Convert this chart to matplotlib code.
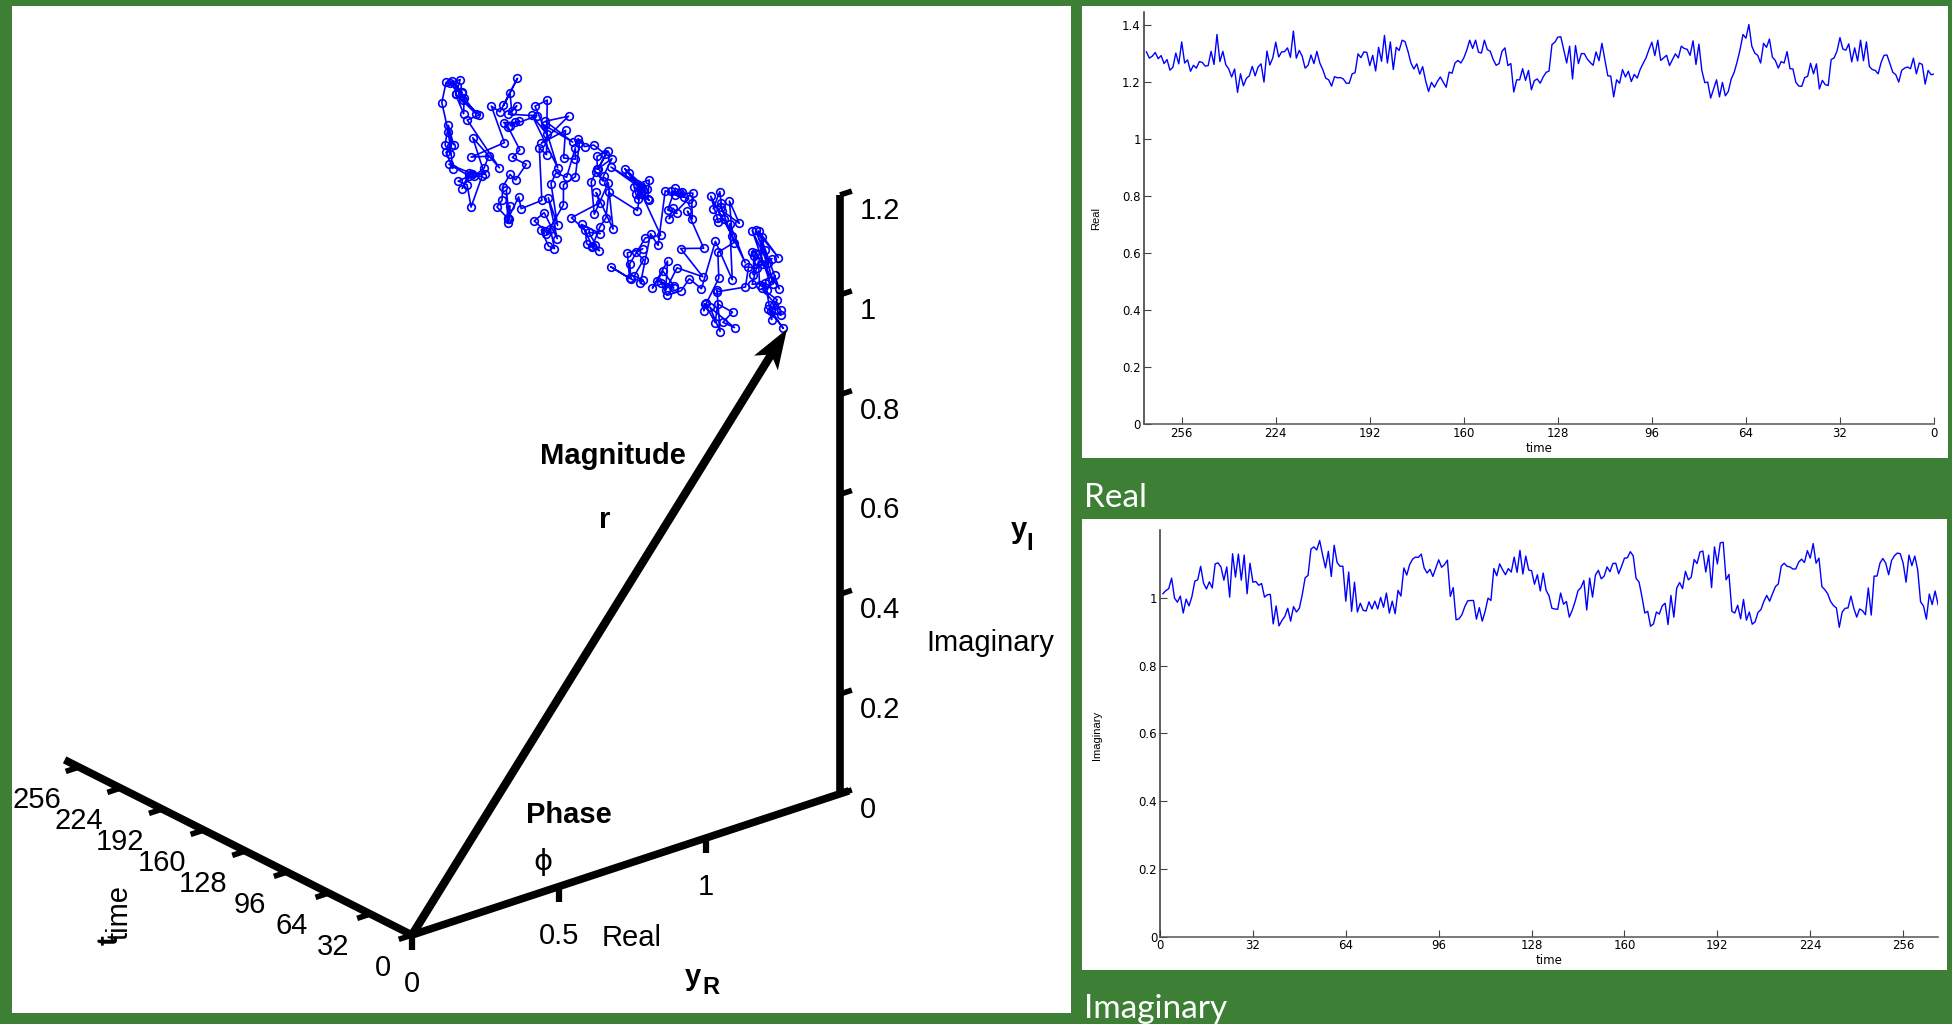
import numpy as np
import matplotlib
matplotlib.use("Agg")
import matplotlib.pyplot as plt

plt.rcParams["font.family"] = ["Liberation Sans", "DejaVu Sans"]

# values, left to right
real_vals = [
    1.306, 1.284, 1.291, 1.304, 1.282, 1.293, 1.265, 1.279, 1.242, 1.252, 1.302, 1.264, 1.341, 1.267, 1.278, 1.238,
    1.259, 1.249, 1.272, 1.269, 1.256, 1.258, 1.308, 1.262, 1.367, 1.272, 1.308, 1.261, 1.246, 1.218, 1.246, 1.164,
    1.229, 1.187, 1.213, 1.222, 1.255, 1.222, 1.253, 1.264, 1.2, 1.309, 1.26, 1.285, 1.34, 1.288, 1.306, 1.307,
    1.32, 1.287, 1.379, 1.284, 1.311, 1.291, 1.249, 1.259, 1.295, 1.265, 1.308, 1.267, 1.244, 1.214, 1.208, 1.186,
    1.219, 1.215, 1.216, 1.211, 1.196, 1.196, 1.229, 1.233, 1.299, 1.286, 1.306, 1.304, 1.258, 1.294, 1.239, 1.322,
    1.273, 1.364, 1.267, 1.341, 1.244, 1.322, 1.311, 1.347, 1.342, 1.308, 1.267, 1.246, 1.264, 1.228, 1.254, 1.205,
    1.167, 1.199, 1.182, 1.202, 1.218, 1.2, 1.182, 1.235, 1.231, 1.267, 1.276, 1.267, 1.285, 1.312, 1.347, 1.318,
    1.347, 1.305, 1.302, 1.347, 1.314, 1.308, 1.279, 1.259, 1.265, 1.308, 1.32, 1.258, 1.265, 1.165, 1.208, 1.208,
    1.247, 1.206, 1.241, 1.173, 1.205, 1.211, 1.196, 1.218, 1.234, 1.239, 1.332, 1.34, 1.358, 1.359, 1.314, 1.267,
    1.326, 1.211, 1.328, 1.265, 1.3, 1.3, 1.281, 1.269, 1.259, 1.306, 1.275, 1.336, 1.279, 1.222, 1.221, 1.148,
    1.208, 1.196, 1.244, 1.218, 1.238, 1.202, 1.227, 1.214, 1.244, 1.265, 1.285, 1.314, 1.34, 1.293, 1.347, 1.276,
    1.285, 1.294, 1.258, 1.279, 1.299, 1.285, 1.326, 1.318, 1.315, 1.294, 1.345, 1.262, 1.333, 1.241, 1.198, 1.2,
    1.144, 1.176, 1.208, 1.148, 1.199, 1.152, 1.167, 1.211, 1.234, 1.271, 1.314, 1.367, 1.354, 1.402, 1.326, 1.302,
    1.294, 1.267, 1.336, 1.322, 1.351, 1.288, 1.276, 1.249, 1.272, 1.267, 1.307, 1.247, 1.246, 1.199, 1.186, 1.185,
    1.216, 1.22, 1.266, 1.229, 1.264, 1.176, 1.206, 1.191, 1.188, 1.279, 1.285, 1.309, 1.356, 1.316, 1.312, 1.334,
    1.271, 1.32, 1.274, 1.347, 1.275, 1.341, 1.255, 1.244, 1.241, 1.229, 1.269, 1.294, 1.295, 1.265, 1.234, 1.226,
    1.2, 1.241, 1.249, 1.253, 1.247, 1.284, 1.229, 1.267, 1.262, 1.193, 1.241, 1.226, 1.228,
]
imag_vals = [
    1.012, 1.021, 1.027, 1.058, 0.999, 0.987, 1.005, 0.955, 0.996, 0.976, 1.004, 1.049, 1.053, 1.093, 1.043, 1.026,
    1.047, 1.029, 1.1, 1.103, 1.091, 1.052, 1.091, 1.002, 1.13, 1.061, 1.129, 1.052, 1.126, 1.012, 1.102, 1.046,
    1.048, 1.037, 1.042, 1.002, 1.009, 1.01, 0.923, 0.976, 0.917, 0.933, 0.945, 0.969, 0.931, 0.974, 0.958, 0.969,
    1.009, 1.059, 1.066, 1.144, 1.15, 1.141, 1.169, 1.127, 1.088, 1.137, 1.063, 1.155, 1.104, 1.093, 1.093, 0.99,
    1.076, 0.96, 1.046, 0.958, 0.984, 0.963, 0.961, 0.988, 0.967, 0.99, 0.967, 1.001, 0.972, 1.014, 0.955, 0.99,
    0.953, 1.022, 1.005, 1.088, 1.067, 1.098, 1.114, 1.12, 1.119, 1.129, 1.088, 1.073, 1.084, 1.063, 1.088, 1.112,
    1.09, 1.098, 1.111, 1.004, 1.03, 0.935, 0.938, 0.95, 0.974, 0.991, 0.992, 0.992, 0.937, 0.971, 0.931, 0.96,
    0.999, 0.992, 1.086, 1.065, 1.1, 1.083, 1.068, 1.086, 1.076, 1.12, 1.075, 1.14, 1.07, 1.123, 1.082, 1.08,
    1.04, 1.068, 1.02, 1.073, 1.022, 1.006, 0.969, 0.967, 0.966, 1.014, 0.981, 0.989, 0.943, 0.963, 0.989, 1.021,
    1.03, 1.051, 0.964, 1.058, 1.002, 1.067, 1.081, 1.056, 1.064, 1.091, 1.077, 1.101, 1.102, 1.071, 1.093, 1.117,
    1.118, 1.136, 1.124, 1.057, 1.047, 1.004, 0.955, 0.96, 0.916, 0.923, 0.958, 0.952, 0.976, 0.984, 0.921, 1.007,
    0.943, 1.029, 1.045, 1.027, 1.078, 1.053, 1.061, 1.113, 1.101, 1.135, 1.138, 1.076, 1.126, 1.03, 1.15, 1.1,
    1.162, 1.164, 1.053, 1.069, 0.96, 0.955, 0.978, 0.938, 0.995, 0.934, 0.958, 0.922, 0.929, 0.957, 0.965, 0.989,
    1.007, 0.99, 1.012, 1.033, 1.041, 1.093, 1.102, 1.093, 1.091, 1.085, 1.085, 1.105, 1.114, 1.104, 1.139, 1.117,
    1.16, 1.102, 1.117, 1.033, 1.024, 1.012, 0.989, 0.977, 0.97, 0.913, 0.958, 0.969, 0.97, 1.005, 0.969, 0.943,
    0.967, 0.962, 0.95, 1.029, 0.949, 1.064, 1.064, 1.102, 1.116, 1.102, 1.068, 1.11, 1.124, 1.132, 1.13, 1.102,
    1.046, 1.126, 1.095, 1.123, 1.083, 0.988, 0.976, 0.937, 1.011, 0.98, 1.02, 0.981, 0.957,
]

time_ticks = [0, 32, 64, 96, 128, 160, 192, 224, 256]
real_ticks = [0, 0.5, 1]
imag_ticks = [0, 0.2, 0.4, 0.6, 0.8, 1, 1.2]
level_ticks = [0, 0.2, 0.4, 0.6, 0.8, 1, 1.2, 1.4]

GREEN = "#3C7F35"
BLUE = "#0000FF"

W, H = 1952, 1024
fig = plt.figure(figsize=(W / 100, H / 100), dpi=100, facecolor=GREEN)


def box(x0, y0, x1, y1, **kw):
    """axes placed from pixel corners, y measured from the top"""
    return fig.add_axes([x0 / W, 1 - y1 / H, (x1 - x0) / W, (y1 - y0) / H], **kw)


def tick_text(v):
    return f"{v:g}"


# ── left panel: phase-space sketch ──
ax = box(12, 6, 1071, 1013)
ax.set_xlim(12, 1071)
ax.set_ylim(1013, 6)
ax.axis("off")
ax.add_patch(plt.Rectangle((12, 6), 1059, 1007, color="white", zorder=0))

ORIGIN = np.array([412.0, 935.0])
E_T = np.array([-1.301, -0.656])
E_R = np.array([294.0, -97.0])
E_I = np.array([0.0, -499.0])
RE_END = 1.456


def proj(t, re, im):
    t, re, im = np.asarray(t, float), np.asarray(re, float), np.asarray(im, float)
    return (ORIGIN[0] + t * E_T[0] + re * E_R[0] + im * E_I[0],
            ORIGIN[1] + t * E_T[1] + re * E_R[1] + im * E_I[1])


def seg(p, q, lw=5.5, cap="butt"):
    ax.plot([p[0], q[0]], [p[1], q[1]], color="black", lw=lw, solid_capstyle=cap, zorder=3)


# axes
seg(proj(267, 0, 0), proj(0, 0, 0))
seg(proj(0, 0, 0), proj(0, RE_END + 0.03, 0))
seg(proj(0, RE_END, 0), proj(0, RE_END, 1.2))

for t in time_ticks:
    p = proj(t, 0, 0)
    seg(p, proj(t, -0.045, 0), lw=4)
    off = {3: -42, 2: -37, 1: -29}[len(str(t))]
    ax.text(p[0] + off, p[1] + 33, str(t), fontsize=21, ha="center", va="center")

for r in real_ticks:
    p = proj(0, r, 0)
    ax.plot([p[0], p[0]], [p[1], p[1] + 15], color="black", lw=4.5, solid_capstyle="butt", zorder=3)
    ax.text(p[0], p[1] + 49, tick_text(r), fontsize=21, ha="center", va="center")

for v in imag_ticks:
    p = proj(0, RE_END, v)
    seg(p, proj(0, RE_END + 0.04, v), lw=4)
    ax.text(860, p[1] + 16, tick_text(v), fontsize=21, ha="left", va="center")

# trajectory from the two signals
real_by_t = np.array(real_vals[::-1])
imag_by_t = np.array(imag_vals)
n = min(len(real_by_t), len(imag_by_t))
tt = np.arange(n)
px, py = proj(tt, real_by_t[:n] + 0.01, imag_by_t[:n])
ax.plot(px, py, "-o", color=BLUE, lw=1.2, ms=5.5, mfc="none", mew=1.2, zorder=4)

# magnitude arrow
tip = np.array([787.0, 329.0])
u = (tip - ORIGIN) / np.linalg.norm(tip - ORIGIN)
v = np.array([-u[1], u[0]])
seg(ORIGIN, tip - 26 * u, lw=6)
head = np.array([tip, tip - 40 * u + 14 * v, tip - 30 * u, tip - 40 * u - 14 * v])
ax.fill(head[:, 0], head[:, 1], color="black", zorder=5, lw=0)

for x, y, s in [(613, 456, "Magnitude"), (605, 520, "r"), (569, 815, "Phase"),
                (693, 977, "y"), (1019, 530, "y")]:
    ax.text(x, y, s, fontsize=21, fontweight="bold", ha="center", va="center")
ax.text(711, 988, "R", fontsize=17, fontweight="bold", ha="center", va="center")
ax.text(1030, 544, "I", fontsize=17, fontweight="bold", ha="center", va="center")
ax.text(632, 938, "Real", fontsize=21, ha="center", va="center")
ax.text(990, 643, "Imaginary", fontsize=21, ha="center", va="center")
ax.text(543, 862, "\u03d5", fontsize=21, ha="center", va="center", family="DejaVu Sans")
ax.text(120, 912, "time", fontsize=21, rotation=90, ha="center", va="center")
ax.text(110, 940, "t", fontsize=21, fontweight="bold", rotation=90, ha="center", va="center")


# ── right panels ──
def style_signal(a, ylab, ylab_x, ylab_y, xlab_x, xlab_y):
    for side in ("top", "right"):
        a.spines[side].set_visible(False)
    a.spines["left"].set_linewidth(1.1)
    a.spines["bottom"].set_linewidth(1.1)
    a.spines["left"].set_color("#333333")
    a.spines["bottom"].set_color("#555555")
    a.tick_params(direction="in", length=5, width=0.8, color="#444444", labelsize=8.5, pad=2)
    for lab in a.get_xticklabels() + a.get_yticklabels():
        lab.set_family("DejaVu Sans")
    fig.text(ylab_x / W, 1 - ylab_y / H, ylab, fontsize=8, rotation=90, ha="center", va="center")
    fig.text(xlab_x / W, 1 - xlab_y / H, "time", fontsize=8.5, ha="center", va="center", family="DejaVu Sans")


for x0, y0, x1, y1 in [(1082, 6, 1948, 458), (1082, 519, 1947, 970)]:
    bg = box(x0, y0, x1, y1)
    bg.set_xticks([])
    bg.set_yticks([])
    for sp in bg.spines.values():
        sp.set_visible(False)

ax_re = box(1143.5, 12, 1934, 424, facecolor="none")
ax_re.plot(np.arange(len(real_vals))[::-1], real_vals, color=BLUE, lw=1.0)
ax_re.set_xlim(269, 0)
ax_re.set_ylim(0, 1.446)
ax_re.set_xticks(time_ticks)
ax_re.set_yticks(level_ticks, [tick_text(v) for v in level_ticks])
style_signal(ax_re, "Real", 1096, 218, 1539, 448)

ax_im = box(1160, 530, 1938, 936.7, facecolor="none")
ax_im.plot(np.arange(1, len(imag_vals) + 1), imag_vals, color=BLUE, lw=1.0)
ax_im.set_xlim(0, 268)
ax_im.set_ylim(0, 1.2)
ax_im.set_xticks(time_ticks)
ax_im.set_yticks(imag_ticks[:-1], [tick_text(v) for v in imag_ticks[:-1]])
style_signal(ax_im, "Imaginary", 1097, 735, 1549, 961)

# slide captions
fig.text(1084 / W, 1 - 507 / H, "Real", color="white", fontsize=24, family="Lato", va="baseline")
fig.text(1084 / W, 1 - 1018 / H, "Imaginary", color="white", fontsize=24, family="Lato", va="baseline")

fig.savefig("out.png", dpi=100, facecolor=GREEN)
